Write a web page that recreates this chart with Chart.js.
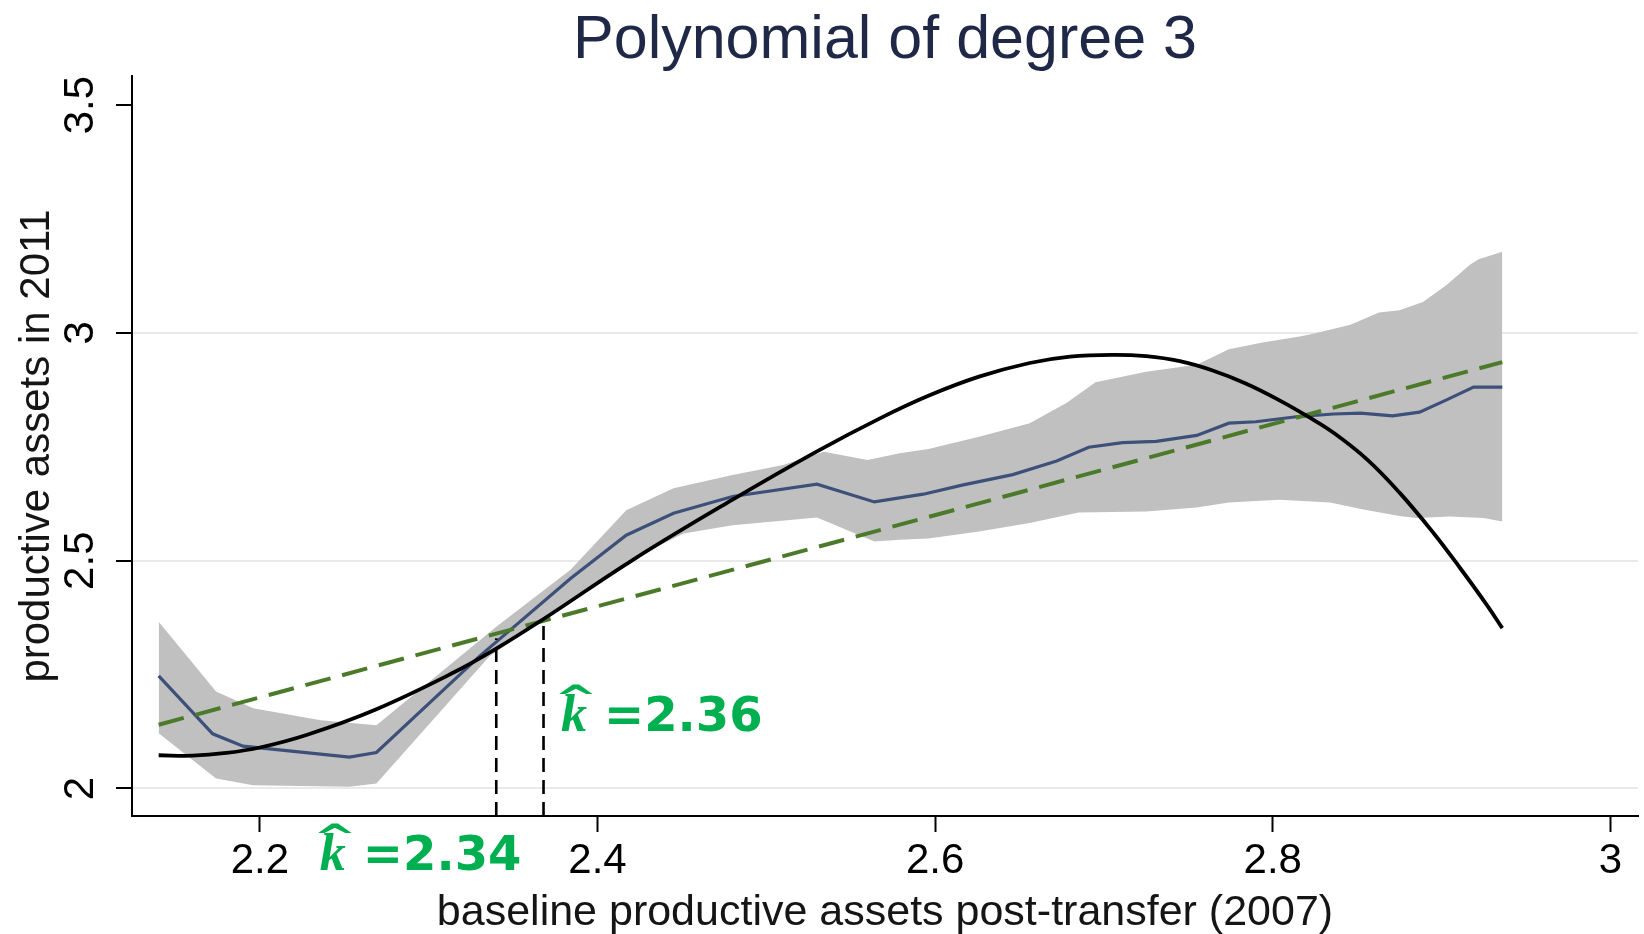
<!DOCTYPE html>
<html>
<head>
<meta charset="utf-8">
<script src="https://cdn.jsdelivr.net/npm/chart.js@4.4.0/dist/chart.umd.min.js"></script>
<style>
html,body{margin:0;padding:0;background:#ffffff;}
canvas{display:block;}
</style>
</head>
<body>
<canvas id="c" width="1644" height="934"></canvas>
<script>
// ---------- data ----------
const chartTitle = 'Polynomial of degree 3';
const xTitle = 'baseline productive assets post-transfer (2007)';
const yTitle = 'productive assets in 2011';
const xTickValues = [2.2, 2.4, 2.6, 2.8, 3];
const yTickValues = [2, 2.5, 3, 3.5];
const xRange = [2.1242, 3.0164];
const yRange = [1.9396, 3.564];

// confidence band (upper / lower edge)
const bandUpperX = [2.140, 2.174, 2.196, 2.236, 2.269, 2.340, 2.384, 2.417, 2.445, 2.480, 2.510, 2.534, 2.560, 2.579, 2.596, 2.626, 2.656, 2.678, 2.695, 2.725, 2.755, 2.774, 2.794, 2.816, 2.824, 2.846, 2.863, 2.875, 2.889, 2.903, 2.917, 2.922, 2.936];
const bandUpperY = [2.366, 2.213, 2.176, 2.150, 2.139, 2.355, 2.480, 2.611, 2.659, 2.688, 2.710, 2.739, 2.721, 2.736, 2.745, 2.772, 2.802, 2.847, 2.892, 2.915, 2.930, 2.964, 2.979, 2.992, 2.998, 3.018, 3.045, 3.050, 3.068, 3.105, 3.150, 3.162, 3.178];
const bandLowerX = [2.140, 2.174, 2.196, 2.253, 2.269, 2.336, 2.380, 2.421, 2.451, 2.480, 2.530, 2.564, 2.579, 2.596, 2.626, 2.656, 2.685, 2.725, 2.755, 2.774, 2.804, 2.834, 2.853, 2.875, 2.885, 2.905, 2.925, 2.936];
const bandLowerY = [2.121, 2.022, 2.007, 2.004, 2.011, 2.290, 2.400, 2.505, 2.560, 2.578, 2.595, 2.542, 2.546, 2.549, 2.564, 2.583, 2.606, 2.608, 2.617, 2.628, 2.634, 2.628, 2.613, 2.598, 2.594, 2.597, 2.594, 2.586];

// local mean (blue)
const meanX = [2.140, 2.172, 2.190, 2.253, 2.269, 2.330, 2.384, 2.417, 2.445, 2.480, 2.530, 2.564, 2.593, 2.616, 2.646, 2.672, 2.691, 2.711, 2.731, 2.755, 2.774, 2.790, 2.814, 2.836, 2.852, 2.871, 2.887, 2.903, 2.919, 2.936];
const meanY = [2.247, 2.120, 2.093, 2.069, 2.079, 2.290, 2.461, 2.556, 2.604, 2.641, 2.668, 2.629, 2.646, 2.666, 2.689, 2.719, 2.749, 2.759, 2.762, 2.775, 2.802, 2.805, 2.816, 2.822, 2.824, 2.818, 2.826, 2.853, 2.881, 2.881];

// cubic fit (black)
const cubicX = [2.140, 2.160, 2.180, 2.200, 2.228, 2.269, 2.315, 2.340, 2.368, 2.421, 2.480, 2.530, 2.567, 2.596, 2.626, 2.656, 2.680, 2.705, 2.725, 2.745, 2.764, 2.784, 2.804, 2.822, 2.836, 2.856, 2.875, 2.895, 2.911, 2.927, 2.936];
const cubicY = [2.073, 2.072, 2.078, 2.090, 2.118, 2.174, 2.255, 2.307, 2.372, 2.502, 2.634, 2.740, 2.812, 2.862, 2.904, 2.934, 2.948, 2.952, 2.949, 2.938, 2.918, 2.889, 2.852, 2.814, 2.781, 2.722, 2.650, 2.562, 2.484, 2.402, 2.352];

// 45-degree reference (green dashed)
const diagX = [2.140, 2.936];
const diagY = [2.140, 2.936];

// k-hat markers
const kValues = [2.34, 2.368];
const kTops = [2.330, 2.372];
const kLabelTexts = ['=2.34', '=2.36'];
const kLabelX = [2.2355, 2.3783];
const kLabelY = [1.820, 2.126];

// ---------- build chart ----------
const pts = (xs, ys) => xs.map((v, i) => ({x: v, y: ys[i]}));
const FONT = 'Liberation Sans';
const GREEN = '#00b050';

const datasets = [
  {data: pts(bandUpperX, bandUpperY), borderColor: 'rgba(0,0,0,0)', borderWidth: 0, pointRadius: 0,
   fill: '+1', backgroundColor: '#c0c0c0', order: 6},
  {data: pts(bandLowerX, bandLowerY), borderColor: 'rgba(0,0,0,0)', borderWidth: 0, pointRadius: 0,
   fill: false, order: 6},
  {data: pts(meanX, meanY), borderColor: '#3d5079', borderWidth: 3.2, pointRadius: 0, fill: false, tension: 0, order: 5},
  {data: pts(diagX, diagY), borderColor: '#4b7a2a', borderWidth: 4, borderDash: [26, 12], pointRadius: 0, fill: false, order: 4},
  {data: pts(cubicX, cubicY), borderColor: '#000000', borderWidth: 3.8, pointRadius: 0, fill: false,
   tension: 0.4, order: 3}
];
kValues.forEach((k, i) => {
  datasets.push({data: [{x: k, y: yRange[0]}, {x: k, y: kTops[i]}], borderColor: '#000000', borderWidth: 2.6,
    borderDash: [14, 8], pointRadius: 0, fill: false, order: 2});
});

const titlePlugin = {
  id: 'centredTitle',
  afterDraw(chart) {
    const {ctx, chartArea} = chart;
    ctx.save();
    ctx.fillStyle = '#1f2947';
    ctx.font = '61px "' + FONT + '"';
    ctx.textAlign = 'center';
    ctx.textBaseline = 'alphabetic';
    ctx.fillText(chartTitle, (chartArea.left + chartArea.right) / 2, 58);
    ctx.restore();
  }
};

const kLabelPlugin = {
  id: 'kLabels',
  afterDraw(chart) {
    const {ctx, scales: {x, y}} = chart;
    kLabelTexts.forEach((t, i) => {
      const px = x.getPixelForValue(kLabelX[i]);
      const py = y.getPixelForValue(kLabelY[i]);
      ctx.save();
      ctx.fillStyle = GREEN;
      ctx.textAlign = 'left';
      ctx.textBaseline = 'alphabetic';
      // italic k
      ctx.font = 'italic bold 52px "Liberation Serif"';
      ctx.fillText('k', px, py);
      // wide hat above k (text glyph, stretched horizontally)
      ctx.font = 'bold 36px "DejaVu Sans"';
      const m = ctx.measureText('^');
      const gd = m.actualBoundingBoxDescent;
      const adv = m.width;
      ctx.save();
      ctx.translate(px + 15, py - 37);
      ctx.scale(1.45, 1.0);
      ctx.textAlign = 'center';
      ctx.fillText('^', 0, -gd);
      ctx.restore();
      // value
      ctx.font = 'bold 48px "DejaVu Sans"';
      ctx.fillText(t, px + 43, py);
      ctx.restore();
    });
  }
};

new Chart(document.getElementById('c').getContext('2d'), {
  type: 'line',
  data: {datasets},
  plugins: [titlePlugin, kLabelPlugin],
  options: {
    responsive: false,
    animation: false,
    devicePixelRatio: 1,
    layout: {padding: {left: 0, right: 6, top: 76, bottom: 0}},
    plugins: {
      legend: {display: false},
      tooltip: {enabled: false},
      title: {display: false}
    },
    scales: {
      x: {
        type: 'linear',
        min: xRange[0],
        max: xRange[1],
        afterBuildTicks: s => { s.ticks = xTickValues.map(v => ({value: v})); },
        afterFit: s => { s.height = 118; },
        grid: {display: true, drawOnChartArea: false, drawTicks: true, tickLength: 16, tickColor: '#000', tickWidth: 2},
        border: {display: true, color: '#000', width: 2},
        ticks: {color: '#000', font: {family: FONT, size: 42}, padding: 4, minRotation: 0, maxRotation: 0,
                autoSkip: false, callback: v => String(v)},
        title: {display: true, text: xTitle, color: '#151515',
                font: {family: FONT, size: 43, lineHeight: 0.95}, padding: {top: 0, bottom: 0}}
      },
      y: {
        type: 'linear',
        min: yRange[0],
        max: yRange[1],
        afterBuildTicks: s => { s.ticks = yTickValues.map(v => ({value: v})); },
        afterFit: s => { s.width = 132; },
        grid: {display: true, drawTicks: true, tickLength: 16, tickColor: '#000', tickWidth: 2, lineWidth: 2,
               color: c => (c.tick && c.tick.value === 3.5) ? 'rgba(0,0,0,0)' : '#e9e9e9'},
        border: {display: true, color: '#000', width: 2},
        ticks: {color: '#000', font: {family: FONT, size: 42}, padding: 5, minRotation: 90, maxRotation: 90,
                crossAlign: 'center', autoSkip: false, callback: v => String(v)},
        title: {display: true, text: yTitle, color: '#151515',
                font: {family: FONT, size: 42}, padding: {top: 12, bottom: 0}}
      }
    }
  }
});
</script>
</body>
</html>
